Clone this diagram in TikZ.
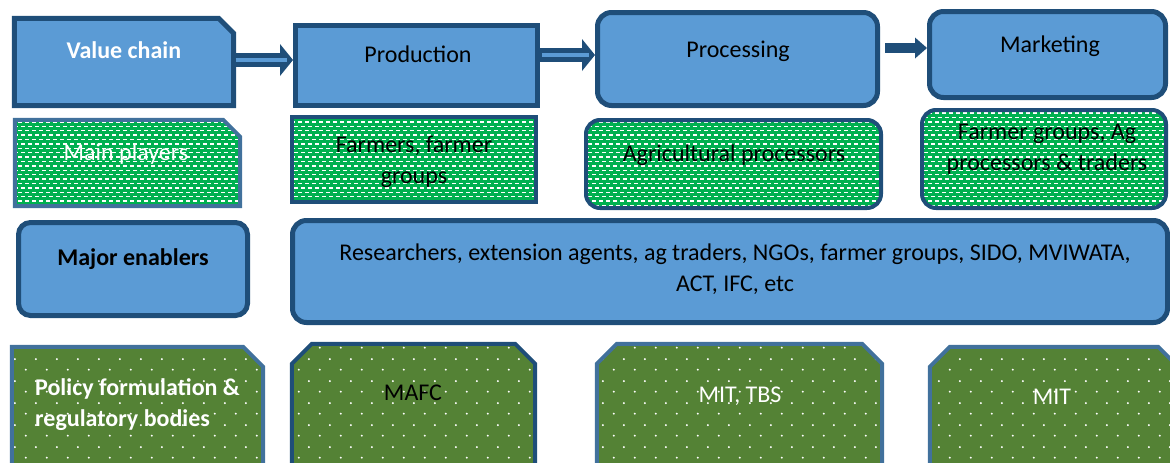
\documentclass[tikz,border=0pt]{standalone}
\usepackage{fontspec}
\setmainfont{Carlito}
\usetikzlibrary{arrows.meta,patterns.meta}
\definecolor{chainblue}{HTML}{5B9BD5}
\definecolor{edgedark}{HTML}{1F4E79}
\definecolor{edgesteel}{HTML}{41719C}
\definecolor{playergreen}{HTML}{00B050}
\definecolor{policygreen}{HTML}{548235}

% small staggered dashes (main players row)
\tikzdeclarepattern{
  name=dashgrid,
  type=uncolored,
  bounding box={(-1pt,-1pt) and (8pt,10pt)},
  tile size={(7pt,8.8pt)},
  code={
    \fill (0.2pt,1.5pt) rectangle (4.1pt,2.9pt);
    \fill (3.7pt,5.9pt) rectangle (7.6pt,7.3pt);
  }
}
% sparse staggered dots (policy row)
\tikzdeclarepattern{
  name=dotgrid,
  type=uncolored,
  bounding box={(0pt,0pt) and (21pt,22pt)},
  tile size={(21pt,22pt)},
  code={
    \fill (5pt,5.5pt) circle (1.1pt);
    \fill (15.5pt,16.5pt) circle (1.1pt);
  }
}

\begin{document}
\begin{tikzpicture}[x=1pt,y=-1pt,
  every node/.style={font=\fontsize{24}{31}\selectfont},
  holder/.style={rectangle,inner sep=0pt},
  bluebox/.style={draw=edgedark,fill=chainblue,line width=5pt,inner sep=0pt},
  dashbox/.style={draw=#1,line width=4pt,inner sep=0pt,preaction={fill=playergreen},pattern=dashgrid,pattern color=white},
  dotbox/.style={draw=#1,line width=4pt,inner sep=0pt,preaction={fill=policygreen},pattern=dotgrid,pattern color=white},
  round/.style={rectangle,rounded corners=14pt},
  lbl/.style={inner sep=0pt,align=center},
  wlbl/.style={lbl,text=white},
  blockarr/.style={draw=edgedark,line width=14pt,-{Triangle[length=13pt,width=32pt,line width=0pt]},
    postaction={draw=chainblue,line width=4.5pt,-,shorten <=2pt,shorten >=6pt}},
  solidarr/.style={draw=edgedark,line width=10pt,-{Triangle[length=12pt,width=21pt,line width=0pt]}}
]
\path[use as bounding box,clip] (0,0) rectangle (1170,463);

% value chain row
\node[holder,minimum width=219pt,minimum height=87pt] (vc) at (124,62) {};
\path[bluebox] (vc.south west) -- (vc.north west) -- ([xshift=-15pt]vc.north east)
  -- ([yshift=-15pt]vc.north east) -- (vc.south east) -- cycle;
\node[bluebox,rectangle,minimum width=242pt,minimum height=80pt] (prod) at (416.5,65.5) {};
\node[bluebox,round,minimum width=280pt,minimum height=93pt] (proc) at (737.5,59) {};
\node[bluebox,round,minimum width=236pt,minimum height=86pt] (mkt) at (1047.5,54.5) {};
\node[wlbl,anchor=base,font=\fontsize{24}{31}\selectfont\bfseries] (t-vc) at (124,58) {Value chain};
\node[lbl,anchor=base] (t-prod) at (418,62) {Production};
\node[lbl,anchor=base] (t-proc) at (738,57) {Processing};
\node[lbl,anchor=base] (t-mkt) at (1050,52) {Marketing};

% main players row
\node[holder,minimum width=225pt,minimum height=86pt] (mp) at (127.5,163) {};
\path[dashbox=edgesteel] (mp.south west) -- (mp.north west) -- ([xshift=-17pt]mp.north east)
  -- ([yshift=-17pt]mp.north east) -- (mp.south east) -- cycle;
\node[dashbox=edgedark,rectangle,minimum width=244pt,minimum height=85pt] (farm) at (414,159.5) {};
\node[dashbox=edgedark,round,minimum width=295pt,minimum height=88pt] (agp) at (733.5,164) {};
\node[dashbox=edgedark,round,minimum width=244pt,minimum height=98pt] (fga) at (1044,159) {};
\node[wlbl,anchor=base] (t-mp) at (126,160) {Main players};
\node[lbl] (t-farm) at (414,161.5) {Farmers, farmer\\groups};
\node[lbl,anchor=base] (t-agp) at (734,161) {Agricultural processors};
\node[lbl] (t-fga) at (1047,149.5) {Farmer groups, Ag\\processors \& traders};

% enablers row
\node[bluebox,round,minimum width=229pt,minimum height=93pt,rounded corners=12pt] (me) at (133,269) {};
\node[bluebox,round,minimum width=875pt,minimum height=102pt] (res) at (730,271.5) {};
\node[lbl,anchor=base,font=\fontsize{24}{31}\selectfont\bfseries] (t-me) at (133,265) {Major enablers};
\node[lbl] (t-res) at (735,269) {Researchers, extension agents, ag traders, NGOs, farmer groups, SIDO, MVIWATA,\\ACT, IFC, etc};

% policy row
\node[holder,minimum width=251pt,minimum height=126pt] (pol) at (137.5,410) {};
\path[dotbox=edgesteel] (pol.south west) -- (pol.north west) -- ([xshift=-20pt]pol.north east)
  -- ([yshift=-20pt]pol.north east) -- (pol.south east) -- cycle;
\node[holder,minimum width=243pt,minimum height=129pt] (mafc) at (413.5,408.5) {};
\path[dotbox=edgedark] (mafc.south west) -- ([yshift=-20pt]mafc.north west) -- ([xshift=20pt]mafc.north west)
  -- ([xshift=-20pt]mafc.north east) -- ([yshift=-20pt]mafc.north east) -- (mafc.south east) -- cycle;
\node[holder,minimum width=285pt,minimum height=129pt] (mitt) at (739.5,408.5) {};
\path[dotbox=edgesteel] (mitt.south west) -- ([yshift=-20pt]mitt.north west) -- ([xshift=20pt]mitt.north west)
  -- ([xshift=-20pt]mitt.north east) -- ([yshift=-20pt]mitt.north east) -- (mitt.south east) -- cycle;
\node[holder,minimum width=248pt,minimum height=126pt] (mit) at (1054,410) {};
\path[dotbox=edgesteel] (mit.south west) -- ([yshift=-20pt]mit.north west) -- ([xshift=20pt]mit.north west)
  -- ([xshift=-20pt]mit.north east) -- ([yshift=-20pt]mit.north east) -- (mit.south east) -- cycle;
\node[wlbl,align=left,anchor=west,font=\fontsize{24}{31}\selectfont\bfseries] (t-pol) at (35,405) {Policy formulation \&\\regulatory bodies};
\node[lbl,anchor=base] (t-mafc) at (413,400) {MAFC};
\node[wlbl,anchor=base] (t-mitt) at (740,402) {MIT, TBS};
\node[wlbl,anchor=base] (t-mit) at (1052,404) {MIT};

% chain arrows
\draw[blockarr] ([yshift=2pt]vc.east) -- ([yshift=2pt]vc.east -| prod.west);
\draw[blockarr] ([yshift=10.5pt]prod.east) -- ([yshift=10.5pt]prod.east -| proc.west);
\draw[solidarr] ([xshift=5pt,yshift=11pt]proc.east) -- ([yshift=11pt]proc.east -| mkt.west);
\end{tikzpicture}
\end{document}
